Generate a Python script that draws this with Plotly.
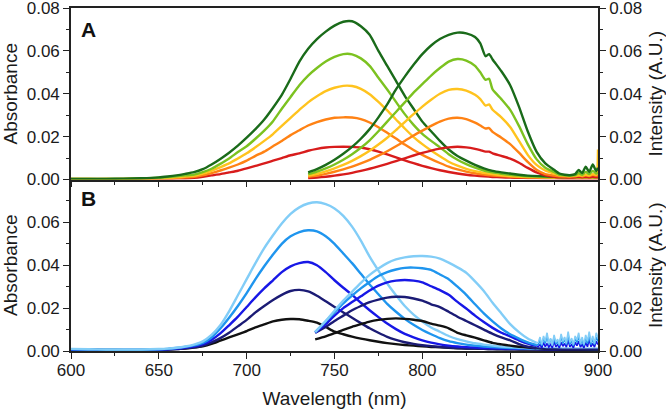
import plotly.graph_objects as go

# ---------------- data ----------------
abs_wl = [600, 610, 620, 630, 640, 650, 655, 660, 665, 670, 675, 680, 685, 690, 695,
          700, 705, 710, 715, 720, 725, 730, 735, 740, 745, 750, 755, 760, 765, 770,
          775, 780, 785, 790, 795, 800, 805, 810, 815, 820, 825, 830, 835, 840, 845,
          850, 855, 860, 870, 880, 890, 900]

# Panel A absorbance
a_abs_red = [.0001,.0001,.0001,.0001,.0002,.0002,.0003,.0004,.0005,.0008,.0013,.0019,.0025,.0033,.0041,
             .0052,.0064,.0075,.0088,.0100,.0113,.0122,.0134,.0143,.0149,.0152,.0153,.0152,.0149,.0141,
             .0130,.0117,.0103,.0089,.0076,.0064,.0053,.0043,.0035,.0028,.0022,.0018,.0015,.0012,.0010,
             .0009,.0008,.0007,.0006,.0005,.0005,.0005]
a_abs_orange = [.0002,.0002,.0002,.0002,.0003,.0004,.0005,.0007,.0010,.0013,.0019,.0030,.0042,.0055,.0070,
                .0088,.0110,.0130,.0155,.0180,.0207,.0230,.0252,.0268,.0280,.0288,.0290,.0289,.0282,.0266,
                .0244,.0218,.0191,.0163,.0138,.0115,.0095,.0077,.0060,.0047,.0037,.0029,.0023,.0019,.0016,
                .0013,.0011,.0010,.0008,.0007,.0007,.0007]
a_abs_yellow = [.0002,.0002,.0002,.0003,.0004,.0006,.0008,.0011,.0014,.0018,.0028,.0040,.0057,.0075,.0098,
                .0122,.0150,.0180,.0212,.0250,.0288,.0325,.0360,.0388,.0412,.0428,.0437,.0436,.0423,.0398,
                .0362,.0322,.0280,.0238,.0198,.0165,.0135,.0108,.0083,.0065,.0050,.0039,.0031,.0025,.0020,
                .0017,.0014,.0012,.0010,.0008,.0008,.0008]
a_abs_lgreen = [.0003,.0003,.0003,.0003,.0005,.0008,.0011,.0015,.0019,.0023,.0034,.0050,.0073,.0098,.0128,
                .0155,.0190,.0228,.0272,.0330,.0385,.0440,.0485,.0520,.0550,.0572,.0585,.0584,.0565,.0530,
                .0475,.0420,.0362,.0305,.0255,.0213,.0180,.0150,.0118,.0092,.0072,.0055,.0042,.0033,.0027,
                .0022,.0018,.0015,.0012,.0010,.0010,.0010]
a_abs_dgreen = [.0003,.0003,.0003,.0004,.0006,.0010,.0014,.0019,.0026,.0034,.0048,.0070,.0096,.0125,.0158,
                .0195,.0235,.0280,.0335,.0395,.0470,.0550,.0610,.0655,.0690,.0718,.0736,.0738,.0715,.0675,
                .0600,.0530,.0460,.0390,.0330,.0270,.0225,.0180,.0140,.0110,.0088,.0068,.0052,.0040,.0033,
                .0028,.0022,.0018,.0015,.0012,.0015,.0012]

# Panel A emission
a_em_wl = [735, 740, 745, 750, 755, 760, 765, 770, 775, 780, 785, 790, 795, 800, 805, 810,
           815, 820, 825, 830, 833, 836, 838, 840, 845, 850, 855, 860, 865, 870, 875]
a_tail_wl = [878, 881, 884, 887, 889, 891, 893, 895, 897, 899, 900]
a_em_red = [.0006,.0009,.0013,.0018,.0024,.0031,.0040,.0050,.0061,.0073,.0086,.0099,.0112,.0124,.0135,.0144,
            .0150,.0153,.0150,.0143,.0137,.0130,.0130,.0122,.0110,.0097,.0078,.0054,.0033,.0020,.0013]
a_em_orange = [.0012,.0018,.0026,.0036,.0047,.0060,.0075,.0092,.0111,.0132,.0155,.0180,.0205,.0228,.0250,.0270,
               .0284,.0288,.0282,.0265,.0252,.0238,.0240,.0222,.0195,.0165,.0125,.0082,.0045,.0025,.0018]
a_em_yellow = [.0018,.0027,.0038,.0052,.0068,.0087,.0109,.0134,.0163,.0195,.0230,.0268,.0305,.0340,.0372,.0400,
               .0418,.0422,.0415,.0395,.0375,.0345,.0350,.0325,.0290,.0245,.0180,.0115,.0068,.0042,.0028]
a_em_lgreen = [.0025,.0037,.0052,.0070,.0092,.0118,.0148,.0183,.0225,.0270,.0315,.0360,.0405,.0445,.0485,.0520,
               .0550,.0562,.0555,.0530,.0500,.0465,.0470,.0420,.0375,.0325,.0250,.0165,.0095,.0055,.0035]
a_em_dgreen = [.0033,.0048,.0068,.0092,.0120,.0152,.0190,.0235,.0290,.0350,.0420,.0480,.0535,.0585,.0625,.0655,
               .0675,.0685,.0682,.0665,.0635,.0575,.0585,.0560,.0505,.0440,.0340,.0225,.0130,.0075,.0045]
a_tail_red = [.0010,.0010,.0009,.0010,.0012,.0010,.0012,.0010,.0013,.0011,.0012]
a_tail_orange = [.0015,.0014,.0013,.0015,.0018,.0015,.0020,.0016,.0022,.0018,.0020]
a_tail_yellow = [.0020,.0018,.0016,.0018,.0020,.0018,.0022,.0020,.0025,.0022,.0140]
a_tail_lgreen = [.0022,.0020,.0018,.0020,.0030,.0022,.0035,.0025,.0040,.0028,.0030]
a_tail_dgreen = [.0028,.0022,.0020,.0025,.0045,.0030,.0060,.0035,.0070,.0040,.0055]

# Panel B absorbance
b_abs_black = [.0008,.0006,.0006,.0005,.0005,.0006,.0007,.0009,.0012,.0016,.0022,.0033,.0048,.0063,.0078,
               .0093,.0110,.0124,.0138,.0146,.0149,.0148,.0141,.0132,.0112,.0090,.0078,.0067,.0058,.0050,
               .0043,.0037,.0032,.0028,.0025,.0022,.0019,.0017,.0015,.0013,.0012,.0011,.0010,.0009,.0008,
               .0008,.0007,.0007,.0006,.0006,.0006,.0006]
b_abs_navy = [.0005,.0005,.0004,.0004,.0004,.0005,.0007,.0009,.0013,.0017,.0025,.0040,.0060,.0085,.0115,
              .0145,.0180,.0210,.0238,.0262,.0280,.0285,.0278,.0258,.0232,.0205,.0180,.0155,.0130,.0106,
              .0085,.0066,.0052,.0041,.0033,.0027,.0023,.0019,.0016,.0014,.0012,.0011,.0010,.0009,.0009,
              .0008,.0008,.0008,.0007,.0007,.0007,.0007]
b_abs_blue = [.0006,.0005,.0005,.0005,.0005,.0006,.0008,.0011,.0016,.0022,.0032,.0052,.0082,.0120,.0160,
              .0205,.0250,.0292,.0330,.0368,.0395,.0410,.0415,.0400,.0368,.0330,.0295,.0262,.0225,.0190,
              .0158,.0128,.0102,.0080,.0064,.0050,.0039,.0031,.0025,.0021,.0018,.0016,.0014,.0013,.0012,
              .0011,.0010,.0010,.0009,.0008,.0008,.0008]
b_abs_mblue = [.0008,.0007,.0006,.0006,.0006,.0008,.0010,.0014,.0019,.0026,.0038,.0063,.0105,.0155,.0210,
               .0270,.0335,.0395,.0450,.0500,.0535,.0555,.0563,.0558,.0535,.0500,.0455,.0410,.0360,.0310,
               .0265,.0220,.0183,.0150,.0122,.0098,.0078,.0060,.0046,.0037,.0030,.0025,.0021,.0018,.0016,
               .0014,.0013,.0012,.0010,.0010,.0010,.0009]
b_abs_lblue = [.0010,.0008,.0007,.0007,.0007,.0009,.0011,.0015,.0021,.0030,.0045,.0075,.0120,.0185,.0260,
               .0335,.0410,.0480,.0540,.0595,.0640,.0670,.0688,.0694,.0685,.0665,.0630,.0580,.0515,.0440,
               .0375,.0315,.0260,.0210,.0170,.0138,.0110,.0090,.0070,.0055,.0045,.0036,.0030,.0025,.0021,
               .0018,.0016,.0014,.0012,.0011,.0010,.0010]

# Panel B emission
b_em_wl = [739, 745, 750, 755, 760, 765, 770, 775, 780, 785, 790, 795, 800, 805, 810, 815,
           820, 825, 830, 835, 840, 845, 850, 855, 860, 865]
b_noise_wl = [866, 867, 868, 869, 870, 871, 872, 873, 874, 875, 876, 877, 878, 879, 880, 881, 882,
              883, 884, 885, 886, 887, 888, 889, 890, 891, 892, 893, 894, 895, 896, 897, 898, 899, 900]
b_tail_wl = [870, 880, 890, 900]
b_em_black = [.0054,.0068,.0083,.0099,.0113,.0125,.0137,.0145,.0150,.0152,.0150,.0146,.0140,.0128,.0118,.0106,
              .0085,.0073,.0062,.0050,.0038,.0031,.0025,.0020,.0016,.0012]
b_em_navy = [.0085,.0112,.0140,.0165,.0190,.0210,.0228,.0240,.0249,.0253,.0252,.0245,.0235,.0218,.0205,.0183,
             .0160,.0140,.0120,.0100,.0080,.0063,.0050,.0032,.0020,.0014]
b_em_blue = [.0085,.0125,.0165,.0200,.0228,.0255,.0282,.0305,.0320,.0328,.0331,.0328,.0320,.0302,.0284,.0262,
             .0229,.0198,.0165,.0135,.0108,.0085,.0068,.0050,.0035,.0024]
b_em_mblue = [.0088,.0138,.0180,.0222,.0258,.0292,.0322,.0350,.0368,.0380,.0388,.0389,.0386,.0378,.0357,.0335,
              .0300,.0262,.0218,.0175,.0138,.0105,.0078,.0058,.0040,.0028]
b_em_lblue = [.0088,.0140,.0188,.0235,.0276,.0318,.0355,.0385,.0410,.0427,.0437,.0442,.0443,.0440,.0431,.0412,
              .0390,.0365,.0325,.0280,.0225,.0175,.0125,.0088,.0058,.0038]
b_tail_black = [.0008,.0006,.0006,.0006]
b_tail_navy = [.0010,.0008,.0008,.0008]
b_noise_blue = [.0020,.0030,.0015,.0040,.0020,.0035,.0018,.0030,.0015,.0045,.0020,.0030,.0015,.0040,.0022,.0035,.0018,
                .0050,.0020,.0030,.0015,.0040,.0025,.0045,.0018,.0030,.0015,.0040,.0020,.0055,.0020,.0035,.0018,.0045,.0030]
b_noise_mblue = [.0030,.0050,.0025,.0060,.0035,.0070,.0030,.0055,.0028,.0065,.0032,.0045,.0025,.0070,.0035,.0055,.0030,
                 .0075,.0030,.0050,.0025,.0060,.0040,.0070,.0030,.0050,.0025,.0060,.0035,.0075,.0030,.0055,.0030,.0065,.0045]
b_noise_lblue = [.0040,.0065,.0030,.0070,.0045,.0085,.0035,.0060,.0025,.0075,.0040,.0055,.0030,.0080,.0045,.0065,.0035,
                 .0090,.0040,.0060,.0030,.0070,.0050,.0085,.0035,.0065,.0030,.0075,.0045,.0090,.0040,.0070,.0035,.0085,.0060]

x_ticks = [600, 650, 700, 750, 800, 850, 900]
y_ticks_a = [0.00, 0.02, 0.04, 0.06, 0.08]
y_ticks_b = [0.00, 0.02, 0.04, 0.06]

col_a = ["#d81c1c", "#ff8214", "#ffc31e", "#7cc220", "#1a6b1a"]
col_b = ["#111111", "#1b1b75", "#1717e6", "#1f95ee", "#82cdf7"]

# ---------------- figure ----------------
fig = go.Figure()
LW = 2.4
line_kw = dict(shape="spline", smoothing=0.6, width=LW)

a_abs = [a_abs_red, a_abs_orange, a_abs_yellow, a_abs_lgreen, a_abs_dgreen]
a_em = [a_em_red, a_em_orange, a_em_yellow, a_em_lgreen, a_em_dgreen]
a_tail = [a_tail_red, a_tail_orange, a_tail_yellow, a_tail_lgreen, a_tail_dgreen]
for i in range(5):
    fig.add_trace(go.Scatter(x=abs_wl, y=a_abs[i], mode="lines", xaxis="x2", yaxis="y",
                             line=dict(color=col_a[i], **line_kw), hoverinfo="skip"))
for i in range(5):
    fig.add_trace(go.Scatter(x=a_em_wl + a_tail_wl, y=a_em[i] + a_tail[i], mode="lines",
                             xaxis="x2", yaxis="y3",
                             line=dict(color=col_a[i], **line_kw), hoverinfo="skip"))

b_abs = [b_abs_black, b_abs_navy, b_abs_blue, b_abs_mblue, b_abs_lblue]
b_em = [b_em_black, b_em_navy, b_em_blue, b_em_mblue, b_em_lblue]
b_ext_x = [b_tail_wl, b_tail_wl, b_noise_wl, b_noise_wl, b_noise_wl]
b_ext_y = [b_tail_black, b_tail_navy, b_noise_blue, b_noise_mblue, b_noise_lblue]
for i in range(5):
    fig.add_trace(go.Scatter(x=abs_wl, y=b_abs[i], mode="lines", xaxis="x", yaxis="y2",
                             line=dict(color=col_b[i], **line_kw), hoverinfo="skip"))
for i in range(5):
    fig.add_trace(go.Scatter(x=b_em_wl, y=b_em[i], mode="lines",
                             xaxis="x", yaxis="y4",
                             line=dict(color=col_b[i], **line_kw), hoverinfo="skip"))
    fig.add_trace(go.Scatter(x=b_em_wl[-1:] + b_ext_x[i], y=b_em[i][-1:] + b_ext_y[i], mode="lines",
                             xaxis="x", yaxis="y4",
                             line=dict(color=col_b[i], width=1.6), hoverinfo="skip"))

FONT = "Arial, Liberation Sans, sans-serif"
tickfont = dict(family=FONT, size=17, color="#1a1a1a")
titlefont = dict(family=FONT, size=19, color="#1a1a1a")
AX = dict(showline=True, linecolor="#222", linewidth=1.6, ticks="outside", ticklen=6,
          tickwidth=1.4, tickcolor="#222", showgrid=False, zeroline=False, tickfont=tickfont,
          automargin=False)
minor_x = dict(ticks="outside", ticklen=3.5, tickwidth=1.2, tickcolor="#222", dtick=25, tick0=600, showgrid=False)
minor_y = dict(ticks="outside", ticklen=3.5, tickwidth=1.2, tickcolor="#222", dtick=0.01, tick0=0, showgrid=False)

fig.update_layout(
    width=666, height=409,
    margin=dict(l=71, r=68, t=8, b=58, autoexpand=False),
    paper_bgcolor="white", plot_bgcolor="white",
    showlegend=False,
    xaxis=dict(**AX, domain=[0, 1], anchor="y2", range=[600, 900], tickvals=x_ticks,
               minor=minor_x, ticklabelstandoff=-3,
               title=dict(text="Wavelength (nm)", font=titlefont, standoff=16)),
    xaxis2=dict(**AX, domain=[0, 1], anchor="y", range=[600, 900], matches="x",
                tickvals=x_ticks, showticklabels=False, mirror=True, minor=minor_x),
    yaxis=dict(**AX, domain=[0.5, 1], anchor="x2", range=[0, 0.08], tickvals=y_ticks_a,
               tickformat=".2f", minor=minor_y, ticklabeloverflow="allow",
               title=dict(text="Absorbance", font=titlefont, standoff=6)),
    yaxis2=dict(**AX, domain=[0, 0.5], anchor="x", range=[0, 0.08], tickvals=y_ticks_b,
                tickformat=".2f", minor=minor_y, ticklabeloverflow="allow",
                title=dict(text="Absorbance", font=titlefont, standoff=6)),
    yaxis3=dict(**AX, overlaying="y", side="right", anchor="x2", range=[0, 0.08],
                tickvals=y_ticks_a, tickformat=".2f", minor=minor_y, ticklabeloverflow="allow",
                title=dict(text="Intensity (A.U.)", font=titlefont, standoff=11)),
    yaxis4=dict(**AX, overlaying="y2", side="right", anchor="x", range=[0, 0.08],
                tickvals=y_ticks_b, tickformat=".2f", minor=minor_y, ticklabeloverflow="allow",
                title=dict(text="Intensity (A.U.)", font=titlefont, standoff=11)),
    annotations=[
        dict(text="<b>A</b>", xref="paper", yref="paper", x=0.016, y=0.9375,
             xanchor="left", yanchor="middle", showarrow=False,
             font=dict(family=FONT, size=21, color="#111")),
        dict(text="<b>B</b>", xref="paper", yref="paper", x=0.016, y=0.445,
             xanchor="left", yanchor="middle", showarrow=False,
             font=dict(family=FONT, size=21, color="#111")),
    ],
)

fig.write_html("out.html")
